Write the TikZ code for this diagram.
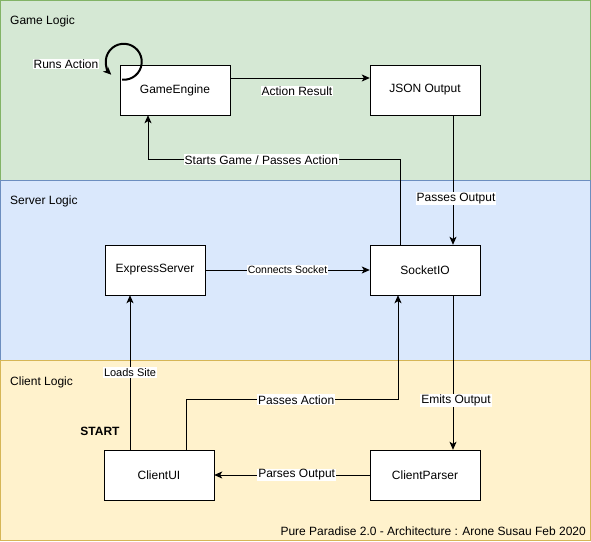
\documentclass[tikz,border=0pt]{standalone}
\usepackage{fontspec}
\setmainfont{Liberation Sans}
\usepackage[dvipsnames]{xcolor}
\usetikzlibrary{arrows.meta}

\definecolor{gamefill}{HTML}{D5E8D4}
\definecolor{gameline}{HTML}{82B366}
\definecolor{serverfill}{HTML}{DAE8FC}
\definecolor{serverline}{HTML}{6C8EBF}
\definecolor{clientfill}{HTML}{FFF2CC}
\definecolor{clientline}{HTML}{D6B656}

\begin{document}
\begin{tikzpicture}[x=1pt,y=1pt,
  box/.style={rectangle,draw,fill=white,minimum width=110pt,minimum height=50pt,inner sep=0pt,font=\fontsize{12}{14}\selectfont},
  lbl/.style={fill=white,inner sep=1pt,font=\fontsize{12}{14}\selectfont},
  small lbl/.style={lbl,font=\fontsize{10.5}{12}\selectfont},
  title/.style={anchor=west,inner sep=0pt,font=\fontsize{12}{14}\selectfont},
  link/.style={draw,line width=1pt,-{Stealth[length=8pt,width=7pt,inset=2pt]}}]
\useasboundingbox (0,0) rectangle (591,-541);
% layers
\draw[fill=gamefill,draw=gameline] (0.5,-0.5) rectangle (590.5,-180);
\draw[fill=serverfill,draw=serverline] (0.5,-180) rectangle (590.5,-360);
\draw[fill=clientfill,draw=clientline] (0.5,-360) rectangle (590.5,-540.5);
\node [title] (gamelogic) at (10,-21) {Game Logic};
\node [title] (serverlogic) at (10,-201) {Server Logic};
\node [title] (clientlogic) at (10,-382) {Client Logic};
\node [box] (engine) at (175,-90) {GameEngine};
\node [box] (json) at (425,-90) {JSON Output};
\node [box,minimum width=100pt] (express) at (155,-270) {ExpressServer};
\node [box] (socket) at (425,-270) {SocketIO};
\node [box] (ui) at (159,-475) {ClientUI};
\node [box] (parser) at (425,-475) {ClientParser};
\node [font=\bfseries\fontsize{12}{14}\selectfont] (start) at (100,-431) {START};
\node [anchor=east,inner sep=0pt,font=\fontsize{12}{14}\selectfont] (credit) at (586,-531) {Pure Paradise 2.0 - Architecture : Arone Susau Feb 2020};
\node [lbl] (runs) at (66,-64) {Runs Action};
\draw [link,line width=2pt] (engine.north west) ++(2.4,-14.9) arc[start angle=-95,end angle=226,radius=18];
\draw [link] ([yshift=12pt]engine.east) -- node[lbl,yshift=-13pt,xshift=-3pt] {Action Result} ([yshift=12pt]json.west);
\draw [link] ([xshift=28pt]json.south) -- node[lbl,pos=0.64,xshift=3pt] {Passes Output} ([xshift=28pt]socket.north);
\draw [link] ([xshift=-25pt]socket.north) -- ++(0,85) -- node[lbl,pos=0.55] {Starts Game / Passes Action} ++(-252,0) -- ([xshift=-27pt]engine.south);
\draw [link] (express.east) -- node[small lbl] {Connects Socket} (socket.west);
\draw [link] ([xshift=-29pt]ui.north) -- node[small lbl,font=\fontsize{11}{13}\selectfont] {Loads Site} ([xshift=-25pt]express.south);
\draw [link] ([xshift=27pt]ui.north) -- ++(0,50) -- node[lbl,pos=0.52] {Passes Action} ++(212,0) -- ([xshift=-27pt]socket.south);
\draw [link] ([xshift=28pt]socket.south) -- node[lbl,pos=0.68,xshift=3pt] {Emits Output} ([xshift=28pt]parser.north);
\draw [link] (parser.west) -- node[lbl,pos=0.47] {Parses Output} (ui.east);
\end{tikzpicture}
\end{document}
